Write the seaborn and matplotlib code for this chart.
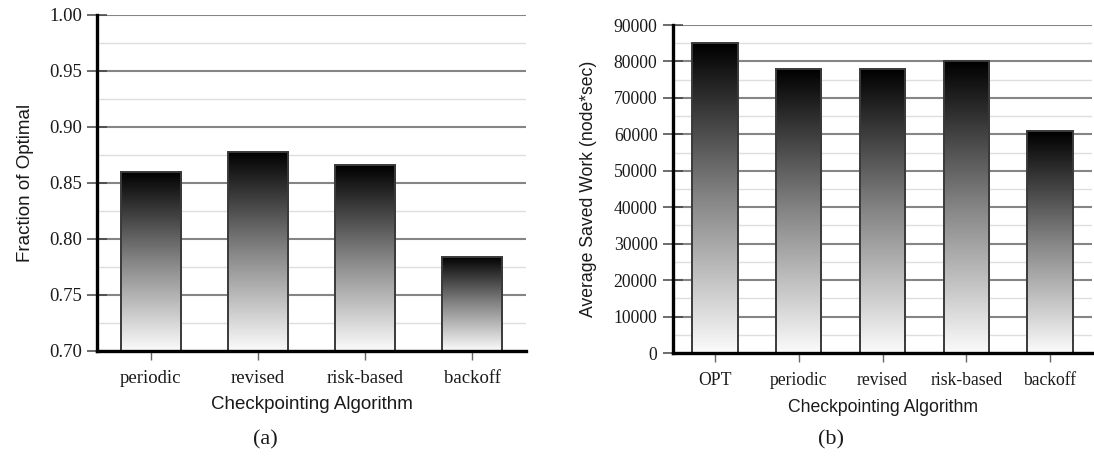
import numpy as np
import pandas as pd
import matplotlib
matplotlib.use("Agg")
import matplotlib.pyplot as plt
import seaborn as sns
from matplotlib.colors import LinearSegmentedColormap
from matplotlib.ticker import MultipleLocator, FormatStrFormatter

# ---- data ----
algos_a = ["periodic", "revised", "risk-based", "backoff"]
fraction_of_optimal = [0.860, 0.878, 0.866, 0.784]

algos_b = ["OPT", "periodic", "revised", "risk-based", "backoff"]
avg_saved_work = [85000, 78000, 78000, 80000, 60800]

sns.set_style("white")
plt.rcParams["font.family"] = ["Liberation Serif", "DejaVu Serif"]

W, H = 1094, 466
fig = plt.figure(figsize=(W / 100, H / 100), dpi=100)
ax_a = fig.add_axes([97 / W, 1 - 351 / H, 429 / W, 336 / H])
ax_b = fig.add_axes([673 / W, 1 - 353 / H, 419 / W, 328 / H])

shade = LinearSegmentedColormap.from_list("shade", ["#fbfbfb", "#858585", "#000000"])
ramp = np.linspace(0, 1, 256).reshape(-1, 1)


def draw_panel(ax, cats, vals, ylim, major, minor, fmt, bar_w, fs,
               ylabel, ylab_x, xlab_y, ytick_pad):
    df = pd.DataFrame({"algo": cats, "value": vals})
    sns.barplot(data=df, x="algo", y="value", ax=ax, width=bar_w,
                color="white", saturation=1, edgecolor="#3a3a3a",
                linewidth=1.4, zorder=3)
    xlim = (-0.5, len(cats) - 0.5)

    # vertical black-to-white fill inside each bar
    for patch in list(ax.patches):
        x0 = patch.get_x()
        w = patch.get_width()
        top = patch.get_y() + patch.get_height()
        bot = max(patch.get_y(), ylim[0])
        im = ax.imshow(ramp, cmap=shade, aspect="auto", origin="lower",
                       extent=[x0, x0 + w, bot, top], zorder=2.5,
                       interpolation="bicubic")
        im.set_clip_path(patch)
        patch.set_facecolor("none")

    ax.set_xlim(*xlim)
    ax.set_ylim(*ylim)

    ax.yaxis.set_major_locator(MultipleLocator(major))
    ax.yaxis.set_minor_locator(MultipleLocator(minor))
    ax.yaxis.set_major_formatter(FormatStrFormatter(fmt))
    ax.set_axisbelow(True)
    ax.grid(False)
    ax.grid(which="major", axis="y", color="#858585", linewidth=1.5)
    ax.grid(which="minor", axis="y", color="#dedede", linewidth=1.0)

    for side in ("top", "right"):
        ax.spines[side].set_visible(False)
    for side in ("left", "bottom"):
        ax.spines[side].set_color("black")
        ax.spines[side].set_linewidth(2.4)
        ax.spines[side].set_zorder(4)

    ax.tick_params(axis="y", which="major", direction="inout", length=15,
                   width=1.1, color="#444444", pad=ytick_pad,
                   labelsize=fs, labelcolor="#1a1a1a", left=True)
    ax.tick_params(axis="y", which="minor", length=0)
    ax.tick_params(axis="x", which="major", direction="out", length=6.5,
                   width=1.0, color="#666666", pad=7.2, labelsize=fs,
                   labelcolor="#1a1a1a", bottom=True)

    ax.set_xlabel("Checkpointing Algorithm", family="Liberation Sans",
                  fontsize=fs, color="#1a1a1a")
    ax.set_ylabel(ylabel, family="Liberation Sans", fontsize=fs,
                  color="#1a1a1a")
    ax.xaxis.set_label_coords(0.5, xlab_y)
    ax.yaxis.set_label_coords(ylab_x, 0.5)


draw_panel(ax_a, algos_a, fraction_of_optimal, (0.70, 1.00), 0.05, 0.025,
           "%.2f", 0.56, 13.5, "Fraction of Optimal", -0.147, -0.135, 2.9)
draw_panel(ax_b, algos_b, avg_saved_work, (0, 90000), 10000, 5000,
           "%d", 0.54, 12.7, "Average Saved Work (node*sec)", -0.181, -0.139, 3.6)

fig.text(265 / W, 1 - 440 / H, "(a)", ha="center", va="center",
         fontsize=16, family="Liberation Serif", color="#1a1a1a")
fig.text(831 / W, 1 - 440 / H, "(b)", ha="center", va="center",
         fontsize=16, family="Liberation Serif", color="#1a1a1a")

fig.savefig("out.png", dpi=100)
